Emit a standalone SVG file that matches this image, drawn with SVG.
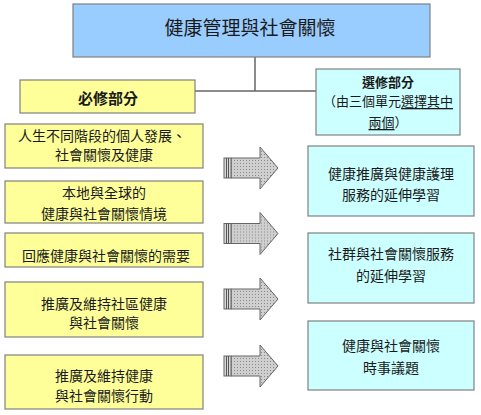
<svg xmlns="http://www.w3.org/2000/svg" width="481" height="415" viewBox="0 0 481 415">
<style>
  text { font-family: "Noto Sans CJK TC", "Noto Sans CJK SC", sans-serif; fill: #1a1a1a; text-anchor: middle; dominant-baseline: central; }
  .box { stroke: #808080; stroke-width: 1.2; }
  .blue { fill: #99CCFF; }
  .yellow { fill: #FFFF99; }
  .cyan { fill: #CCFFFF; }
  .t14 { font-size: 14px; }
  .t13 { font-size: 13px; }
  .conn { stroke: #666666; stroke-width: 1.5; fill: none; }
  .ul { text-decoration: underline; }
</style>
<defs>
  <pattern id="dots" width="3" height="3" patternUnits="userSpaceOnUse">
    <rect width="3" height="3" fill="#cfcfcf"/>
    <rect x="1" y="1" width="1" height="1" fill="#8a8a8a"/>
  </pattern>
  <g id="blockArrow">
    <polygon points="7,-10 36,-10 36,-21 54,0 36,21 36,10 7,10" fill="url(#dots)" stroke="#666666" stroke-width="1"/>
    <rect x="0" y="-10" width="7" height="20" fill="#d8d8d8" stroke="#666666" stroke-width="1"/>
    <line x1="2.5" y1="-10" x2="2.5" y2="10" stroke="#555555" stroke-width="1"/>
    <line x1="4.5" y1="-10" x2="4.5" y2="10" stroke="#555555" stroke-width="1"/>
  </g>
</defs>
<rect width="481" height="415" fill="#ffffff"/>

<g id="connectors">
  <polyline class="conn" points="255,57 255,91"/>
  <polyline class="conn" points="195,91 316,91"/>
  <use href="#blockArrow" transform="translate(224,168)"/>
  <use href="#blockArrow" transform="translate(224,233.5)"/>
  <use href="#blockArrow" transform="translate(224,299)"/>
  <use href="#blockArrow" transform="translate(224,366)"/>
</g>

<g id="title">
  <rect class="box blue" x="73" y="4" width="357" height="53"/>
  <text x="250" y="26" style="font-size:19px">健康管理與社會關懷</text>
</g>

<g id="compulsory">
  <rect class="box yellow" x="20" y="80" width="175" height="33"/>
  <text x="108" y="97" style="font-size:15px;font-weight:bold">必修部分</text>
</g>

<g id="elective">
  <rect class="box cyan" x="316" y="69" width="144" height="66"/>
  <text class="t13" x="388" y="81" style="font-weight:bold">選修部分</text>
  <text class="t13" x="388" y="100">（由三個單元<tspan class="ul">選擇其中</tspan></text>
  <text class="t13" x="388" y="121"><tspan class="ul">兩個</tspan>）</text>
</g>

<g id="c1">
  <rect class="box yellow" x="5" y="124" width="198" height="44"/>
  <text class="t14" x="102" y="135">人生不同階段的個人發展、</text>
  <text class="t14" x="104" y="154">社會關懷及健康</text>
</g>

<g id="c2">
  <rect class="box yellow" x="5" y="181" width="198" height="42"/>
  <text class="t14" x="104" y="192">本地與全球的</text>
  <text class="t14" x="104" y="213">健康與社會關懷情境</text>
</g>

<g id="c3">
  <rect class="box yellow" x="5" y="233" width="198" height="34"/>
  <text class="t14" x="106" y="255">回應健康與社會關懷的需要</text>
</g>

<g id="c4">
  <rect class="box yellow" x="5" y="282" width="198" height="55"/>
  <text class="t14" x="104" y="303">推廣及維持社區健康</text>
  <text class="t14" x="104" y="322">與社會關懷</text>
</g>

<g id="c5">
  <rect class="box yellow" x="5" y="355" width="198" height="54"/>
  <text class="t14" x="104" y="375">推廣及維持健康</text>
  <text class="t14" x="104" y="395">與社會關懷行動</text>
</g>

<g id="e1">
  <rect class="box cyan" x="308" y="146" width="166" height="70"/>
  <text class="t14" x="391" y="173">健康推廣與健康護理</text>
  <text class="t14" x="391" y="194">服務的延伸學習</text>
</g>

<g id="e2">
  <rect class="box cyan" x="308" y="233" width="166" height="70"/>
  <text class="t14" x="391" y="253">社群與社會關懷服務</text>
  <text class="t14" x="391" y="275">的延伸學習</text>
</g>

<g id="e3">
  <rect class="box cyan" x="308" y="321" width="166" height="69"/>
  <text class="t14" x="391" y="345">健康與社會關懷</text>
  <text class="t14" x="391" y="367">時事議題</text>
</g>
</svg>
